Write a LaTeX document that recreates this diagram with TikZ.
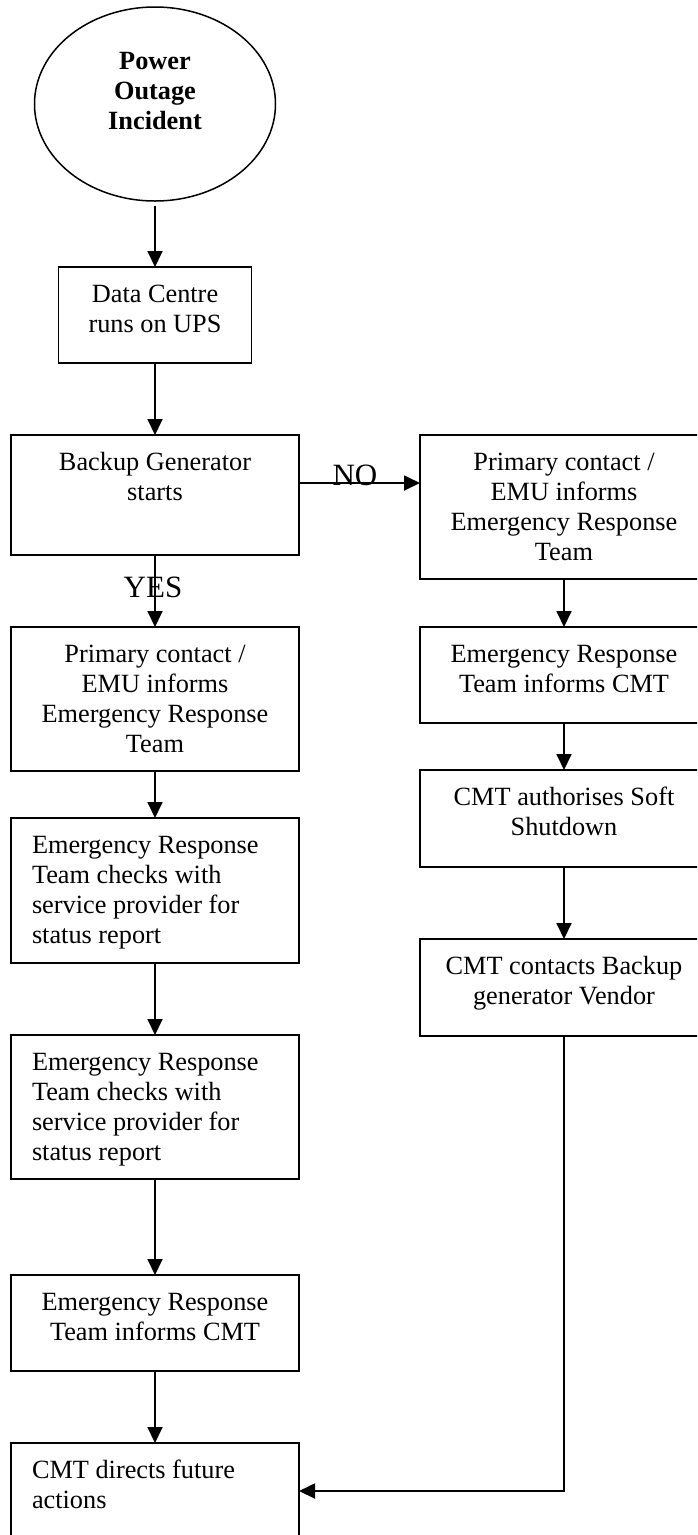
\documentclass[tikz,border=0pt]{standalone}
\usepackage{fontspec}
\setmainfont{Liberation Serif}
\usetikzlibrary{arrows.meta,shapes.geometric}
\newcommand{\ctext}[3]{\parbox[t][#2][t]{#1}{\centering\rule{0pt}{35pt}#3}}
\newcommand{\ltext}[3]{\parbox[t][#2][t]{#1}{\raggedright\leftskip=21pt\rule{0pt}{35pt}#3}}
\begin{document}
\begin{tikzpicture}[x=1pt,y=-1pt,
  every node/.style={font=\fontsize{26.3}{30}\selectfont},
  stepbox/.style={draw,line width=1.8pt,rectangle,inner sep=0pt,outer sep=0pt,anchor=north west},
  arr/.style={line width=1.8pt,-{Triangle[length=16pt,width=15pt]}},
  lbl/.style={font=\fontsize{31}{36}\selectfont,inner sep=0pt,anchor=base}]
\clip (0,0) rectangle (697,1535);
% start ellipse
\node[ellipse,draw,line width=1.5pt,minimum width=241pt,minimum height=194pt,inner sep=0pt] (inc) at (155,104) {};
\node[inner sep=0pt,anchor=north] (inct) at (155,34) {\parbox[t]{200pt}{\centering\bfseries\rule{0pt}{35pt}Power\\Outage\\Incident}};
% left column
\node[stepbox] (dc) at (58.5,267) {\ctext{193pt}{96pt}{Data Centre\\runs on UPS}};
\node[stepbox] (bg) at (11,435) {\ctext{288pt}{120pt}{Backup Generator\\starts}};
\node[stepbox] (l2) at (11,627) {\ctext{288pt}{144pt}{Primary contact /\\EMU informs\\Emergency Response\\Team}};
\node[stepbox] (l3) at (11,818) {\ltext{288pt}{145pt}{Emergency Response\\Team checks with\\service provider for\\status report}};
\node[stepbox] (l4) at (11,1035) {\ltext{288pt}{144pt}{Emergency Response\\Team checks with\\service provider for\\status report}};
\node[stepbox] (l5) at (11,1275) {\ctext{288pt}{96pt}{Emergency Response\\Team informs CMT}};
\node[stepbox] (l6) at (11,1443) {\ltext{288pt}{96pt}{CMT directs future\\actions}};
% right column
\node[stepbox] (r1) at (420,435) {\ctext{288pt}{144pt}{Primary contact /\\EMU informs\\Emergency Response\\Team}};
\node[stepbox] (r2) at (420,627) {\ctext{288pt}{96pt}{Emergency Response\\Team informs CMT}};
\node[stepbox] (r3) at (420,770) {\ctext{288pt}{97pt}{CMT authorises Soft\\Shutdown}};
\node[stepbox] (r4) at (420,939) {\ctext{288pt}{97pt}{CMT contacts Backup\\generator Vendor}};
% connectors
\draw[arr,shorten <=4pt] (inc.south) -- (dc.north);
\draw[arr] (dc.south) -- (bg.north);
\coordinate (noy) at (0,483);
\draw[arr] (bg.east |- noy) -- (r1.west |- noy);
\draw[arr] (bg.south) -- (l2.north);
\draw[arr] (l2.south) -- (l3.north);
\draw[arr] (l3.south) -- (l4.north);
\draw[arr] (l4.south) -- (l5.north);
\draw[arr] (l5.south) -- (l6.north);
\draw[arr] (r1.south) -- (r2.north);
\draw[arr] (r2.south) -- (r3.north);
\draw[arr] (r3.south) -- (r4.north);
\draw[arr] (r4.south) |- (l6.east);
% labels
\node[lbl] (no) at (355,485) {NO};
\node[lbl] (yes) at (153,597) {YES};
\end{tikzpicture}
\end{document}
